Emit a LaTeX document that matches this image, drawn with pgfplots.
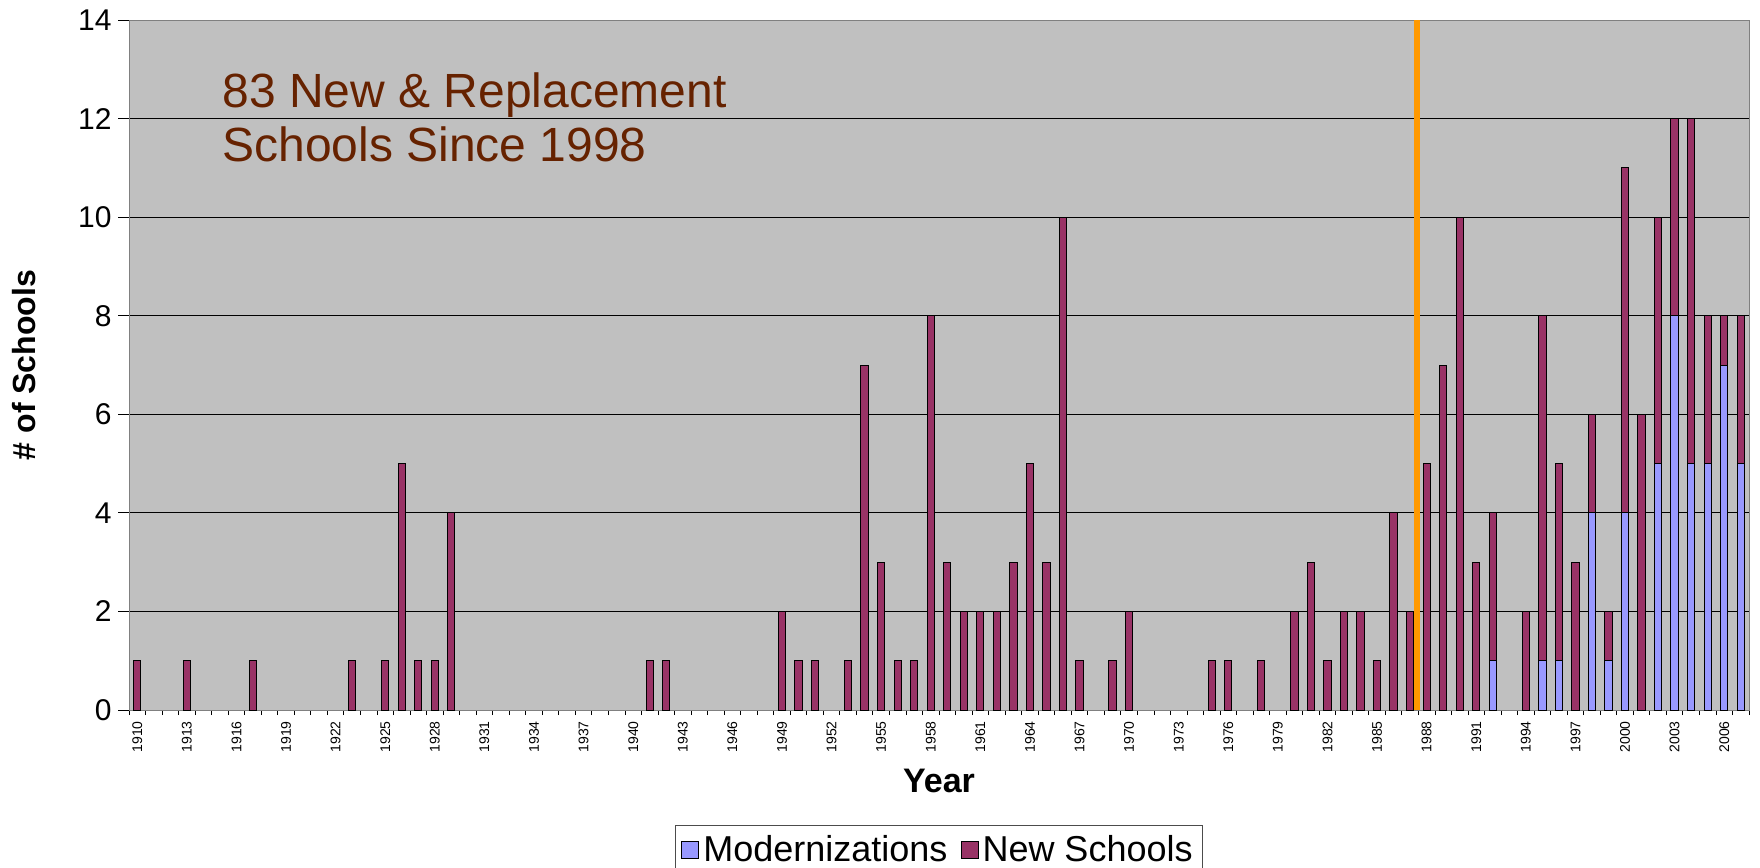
\documentclass[border=0pt]{standalone}
\usepackage{fontspec}
\setmainfont{Liberation Sans}
\usepackage{pgfplots}
\pgfplotsset{compat=1.18}
\usepackage{pgfplotstable}
\definecolor{modc}{HTML}{9999FF}
\definecolor{newc}{HTML}{993366}
\definecolor{bgc}{HTML}{C0C0C0}
\definecolor{orc}{HTML}{FF9900}
\definecolor{txc}{HTML}{662200}
\pgfplotstableread{
year mod new
1910 0 1
1913 0 1
1917 0 1
1923 0 1
1925 0 1
1926 0 5
1927 0 1
1928 0 1
1929 0 4
1941 0 1
1942 0 1
1949 0 2
1950 0 1
1951 0 1
1953 0 1
1954 0 7
1955 0 3
1956 0 1
1957 0 1
1958 0 8
1959 0 3
1960 0 2
1961 0 2
1962 0 2
1963 0 3
1964 0 5
1965 0 3
1966 0 10
1967 0 1
1969 0 1
1970 0 2
1975 0 1
1976 0 1
1978 0 1
1980 0 2
1981 0 3
1982 0 1
1983 0 2
1984 0 2
1985 0 1
1986 0 4
1987 0 2
1988 0 5
1989 0 7
1990 0 10
1991 0 3
1992 1 3
1994 0 2
1995 1 7
1996 1 4
1997 0 3
1998 4 2
1999 1 1
2000 4 7
2001 0 6
2002 5 5
2003 8 4
2004 5 7
2005 5 3
2006 7 1
2007 5 3
}\schools
\begin{document}
\begin{tikzpicture}
\begin{axis}[name=ax, scale only axis, width=810pt, height=345pt,
  xmin=1909.5, xmax=2007.5, ymin=0, ymax=14,
  ybar stacked, bar width=0.44,
  axis background/.style={fill=bgc},
  axis line style={draw=gray},
  ytick={0,2,...,14}, xtick={1910,1913,...,2006},
  minor xtick={1909.5,1910.5,...,2007.5},
  tick align=outside, xtick pos=bottom, ytick pos=left,
  major tick length=5.5pt, minor tick length=2.5pt,
  major x tick style={draw=none},
  tick style={black, line width=0.4pt},
  ymajorgrids, major grid style={black, line width=0.4pt},
  /pgf/number format/assume math mode=true,
  /pgf/number format/1000 sep={},
  xticklabel style={rotate=90, anchor=east, inner sep=0pt, font=\fontsize{7}{8}\selectfont},
  yticklabel style={inner sep=0pt, xshift=-3pt, font=\fontsize{15}{18}\selectfont},
  xlabel={Year}, ylabel={\# of Schools},
  xlabel style={font=\bfseries\fontsize{17}{20}\selectfont, at={(axis description cs:0.5,-0.1029)}, anchor=center},
  ylabel style={font=\bfseries\fontsize{16}{19}\selectfont, at={(axis description cs:-0.0648,0.5)}, anchor=center},
  legend style={at={(0.5,-0.1667)}, anchor=north, legend columns=2, draw=gray!60!black, fill=white,
    font=\fontsize{18}{21}\selectfont, inner xsep=3pt, inner ysep=3pt,
    /tikz/every even column/.append style={column sep=4.5pt}},
]
\addplot[fill=modc, draw=black, line width=0.5pt,
  legend image code/.code={\draw[fill=modc,draw=black,line width=0.5pt] (0pt,-4.25pt) rectangle (8.5pt,4.25pt);}]
  table[x=year,y=mod]{\schools};
\addlegendentry{Modernizations}
\addplot[fill=newc, draw=black, line width=0.5pt,
  legend image code/.code={\draw[fill=newc,draw=black,line width=0.5pt] (0pt,-4.25pt) rectangle (8.5pt,4.25pt);}]
  table[x=year,y=new]{\schools};
\addlegendentry{New Schools}
\addplot[orc, line width=3pt, sharp plot, stack plots=false, forget plot] coordinates {(1987.42,0) (1987.42,14)};
\node[anchor=base west, inner sep=0pt, text=txc, font=\fontsize{24}{28}\selectfont] at (rel axis cs:0.0574,0.8739) {83 New \& Replacement};
\node[anchor=base west, inner sep=0pt, text=txc, font=\fontsize{24}{28}\selectfont] at (rel axis cs:0.0574,0.7942) {Schools Since 1998};
\end{axis}
\pgfresetboundingbox
\useasboundingbox ([xshift=-64.5pt,yshift=-78.5pt]ax.south west) rectangle ([xshift=5.5pt,yshift=10pt]ax.north east);
\end{tikzpicture}
\end{document}
